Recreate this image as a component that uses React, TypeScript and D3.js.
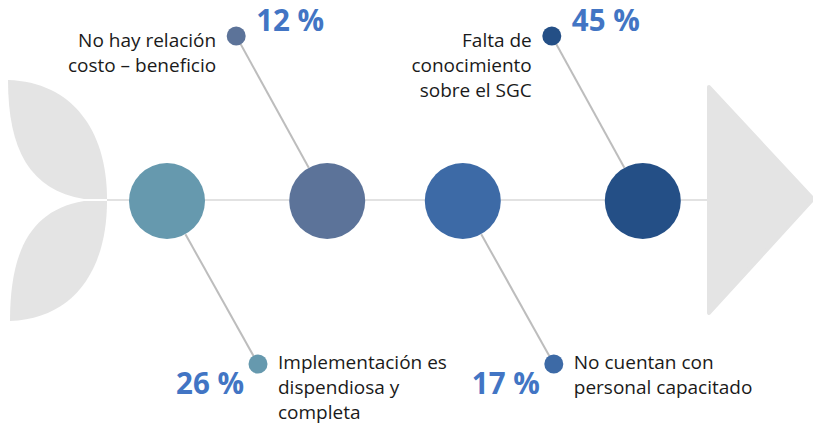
import React from "react";
import * as d3 from "d3";

const W = 813;
const H = 424;

// Data
const categories = [
  ["Implementación es", "dispendiosa y", "completa"],
  ["No hay relación", "costo – beneficio"],
  ["No cuentan con", "personal capacitado"],
  ["Falta de", "conocimiento", "sobre el SGC"],
];
const values = [26, 12, 17, 45];
const sides = ["bottom", "top", "bottom", "top"];
const spinePositions = [0.1, 0.367, 0.593, 0.893];
const colors = ["#6699ae", "#5c7399", "#3d6aa6", "#244f86"];

const FONT = "'Open Sans', sans-serif";

export default function App() {
  const spineY = 200;
  const x = d3.scaleLinear().domain([0, 1]).range([107, 707]);
  const R = 38;
  const r = 9.5;
  const dx = 91;
  const dy = 164;

  const upperLeaf = d3.path();
  upperLeaf.moveTo(8, 80);
  upperLeaf.bezierCurveTo(72, 82, 107, 130, 107, 199);
  upperLeaf.lineTo(84, 199);
  upperLeaf.bezierCurveTo(30, 190, 8, 150, 8, 80);
  upperLeaf.closePath();

  const lowerLeaf = d3.path();
  lowerLeaf.moveTo(10, 321);
  lowerLeaf.bezierCurveTo(72, 319, 107, 272, 107, 201);
  lowerLeaf.lineTo(84, 201);
  lowerLeaf.bezierCurveTo(30, 210, 10, 252, 10, 321);
  lowerLeaf.closePath();

  return (
    <svg width={W} height={H} style={{ position: "absolute", left: 0, top: 0 }}>
      <rect width={W} height={H} fill="#fff" />
      <path d={upperLeaf.toString()} fill="#e4e4e4" />
      <path d={lowerLeaf.toString()} fill="#e4e4e4" />
      <line x1={107} x2={707} y1={spineY} y2={spineY} stroke="#e2e2e2" strokeWidth={2} />
      <polygon
        points={`709,87 813,199 709,313`}
        fill="#e4e4e4"
        stroke="#e4e4e4"
        strokeWidth={4}
        strokeLinejoin="round"
      />
      {values.map((v, i) => {
        const cx = x(spinePositions[i]);
        const top = sides[i] === "top";
        const sx = top ? cx - dx : cx + dx;
        const sy = top ? spineY - dy : spineY + dy;
        const ang = Math.atan2(sy - spineY, sx - cx);
        const ex = cx + Math.cos(ang) * R;
        const ey = spineY + 1 + Math.sin(ang) * R;
        const lines = categories[i];
        return (
          <g key={i}>
            <line x1={sx} y1={sy} x2={ex} y2={ey} stroke="#bdbdbd" strokeWidth={2} />
            <circle cx={cx} cy={spineY + 1} r={R} fill={colors[i]} />
            <circle cx={sx} cy={sy} r={r} fill={colors[i]} />
            {top ? (
              <>
                <text
                  x={sx + 20}
                  y={sy - 5}
                  fontFamily={FONT}
                  fontWeight={700}
                  fontSize={29.5}
                  fill="#4275c4"
                >
                  {`${v} %`}
                </text>
                <text
                  textAnchor="end"
                  fontFamily={FONT}
                  fontSize={19}
                  fill="#1a1a1a"
                >
                  {lines.map((l, j) => (
                    <tspan key={j} x={sx - 20} y={sy + 11 + j * 25}>
                      {l}
                    </tspan>
                  ))}
                </text>
              </>
            ) : (
              <>
                <text
                  x={sx - 14}
                  y={sy + 30}
                  textAnchor="end"
                  fontFamily={FONT}
                  fontWeight={700}
                  fontSize={29.5}
                  fill="#4275c4"
                >
                  {`${v} %`}
                </text>
                <text fontFamily={FONT} fontSize={19} fill="#1a1a1a">
                  {lines.map((l, j) => (
                    <tspan key={j} x={sx + 20} y={sy + 5 + j * 25}>
                      {l}
                    </tspan>
                  ))}
                </text>
              </>
            )}
          </g>
        );
      })}
    </svg>
  );
}
